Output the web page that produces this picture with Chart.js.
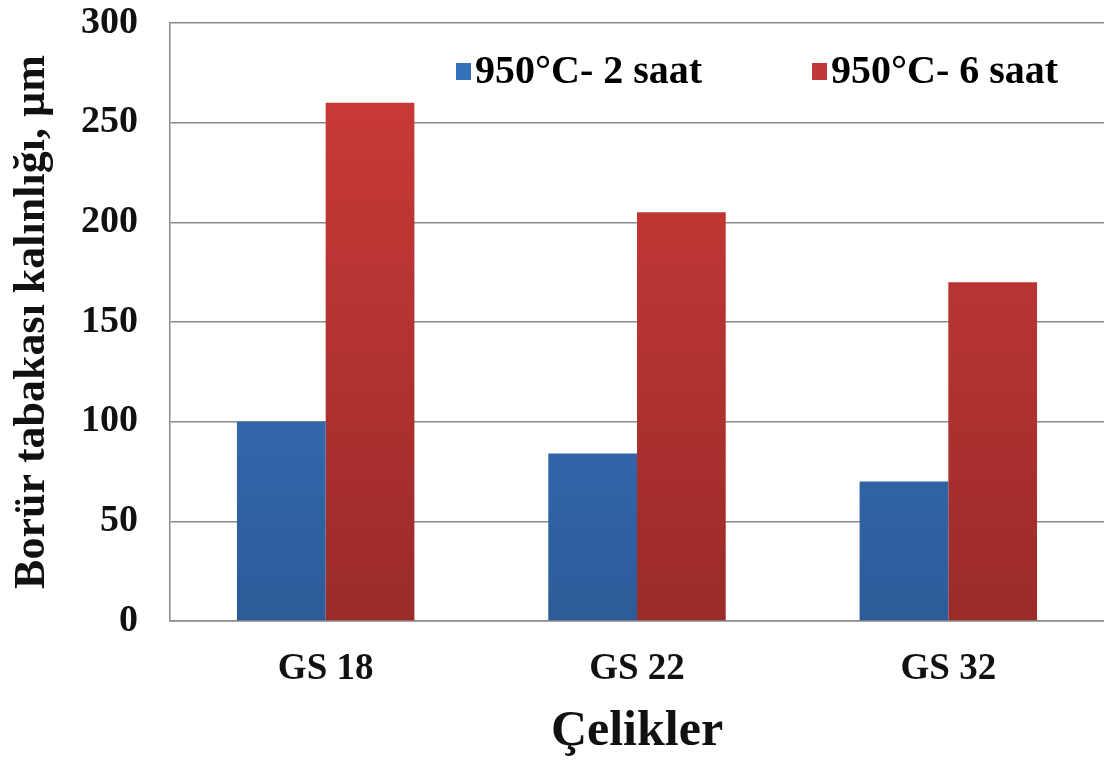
<!DOCTYPE html>
<html>
<head>
<meta charset="utf-8">
<script src="https://cdn.jsdelivr.net/npm/chart.js@4.4.0/dist/chart.umd.min.js"></script>
<style>
html,body{margin:0;padding:0;background:#fff;}
#wrap{width:1104px;height:760px;position:relative;}
</style>
</head>
<body>
<div id="wrap"><canvas id="c" width="1104" height="760"></canvas></div>
<script>
const categories = ["GS 18", "GS 22", "GS 32"];
const series2h = [100, 84, 70];
const series6h = [260, 205, 170];
const seriesNames = ["950°C- 2 saat", "950°C- 6 saat"];
const yTicks = [0, 50, 100, 150, 200, 250, 300];
const yTitle = "Borür tabakası kalınlığı, µm";
const xTitle = "Çelikler";

const FONT = "'Liberation Serif', 'Times New Roman', serif";

function grad(top, bottom) {
  return function(ctx) {
    const chart = ctx.chart;
    const a = chart.chartArea;
    if (!a) return top;
    const g = chart.ctx.createLinearGradient(0, a.top, 0, a.bottom);
    g.addColorStop(0, top);
    g.addColorStop(1, bottom);
    return g;
  };
}

const legendPlugin = {
  id: 'customLegend',
  afterDraw(chart) {
    const ctx = chart.ctx;
    const pos = [456, 812];
    const y = 72;
    ctx.save();
    ctx.font = "bold 40px " + FONT;
    ctx.textBaseline = 'middle';
    chart.data.datasets.forEach((ds, i) => {
      const x = pos[i];
      ctx.fillStyle = ds.legendColor;
      ctx.fillRect(x, y - 9, 15, 17);
      ctx.fillStyle = '#000';
      ctx.fillText(ds.label, x + 19, y + 1);
    });
    ctx.restore();
  }
};

new Chart(document.getElementById('c'), {
  type: 'bar',
  data: {
    labels: categories,
    datasets: [
      { label: seriesNames[0], data: series2h, backgroundColor: grad('#3e7fd0', '#2c5b98'), legendColor: '#3670ba', borderWidth: 0 },
      { label: seriesNames[1], data: series6h, backgroundColor: grad('#cf3c3a', '#9a2b29'), legendColor: '#c0383a', borderWidth: 0 }
    ]
  },
  plugins: [legendPlugin],
  options: {
    responsive: false,
    animation: false,
    devicePixelRatio: 1,
    layout: { padding: { top: 0, right: 0, left: 0, bottom: 0 } },
    datasets: { bar: { categoryPercentage: 0.57, barPercentage: 1.0 } },
    plugins: {
      legend: { display: false },
      tooltip: { enabled: false }
    },
    scales: {
      x: {
        grid: { display: false, drawTicks: false },
        border: { display: true, color: '#8a8a8a', width: 1.5 },
        ticks: { color: '#111', font: { family: FONT, size: 37, weight: 'bold' }, padding: 26 },
        title: { display: true, text: xTitle, color: '#111', font: { family: FONT, size: 50, weight: 'bold' }, padding: { top: 0, bottom: -2 } },
        afterFit(s) { s.height = 139; }
      },
      y: {
        min: 0, max: 300,
        afterBuildTicks(s) { s.ticks = yTicks.map(v => ({ value: v })); },
        grid: { color: '#8a8a8a', lineWidth: 1.5, drawTicks: false },
        border: { display: true, color: '#8a8a8a', width: 1.5 },
        ticks: { color: '#111', font: { family: FONT, size: 38, weight: 'bold', lineHeight: 1.0 }, padding: 32 },
        title: { display: true, text: yTitle, color: '#111', font: { family: FONT, size: 44, weight: 'bold' }, padding: { top: 6, bottom: 0 } },
        afterFit(s) { s.width = 170; s.paddingTop = 23; s.paddingBottom = 0; }
      }
    }
  }
});
</script>
</body>
</html>
